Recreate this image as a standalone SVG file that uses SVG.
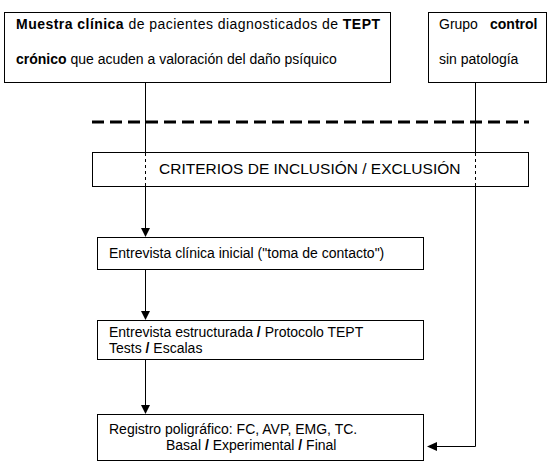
<svg xmlns="http://www.w3.org/2000/svg" width="550" height="468" viewBox="0 0 550 468">
<style>
.box{fill:#fff;stroke:#000;stroke-width:1}
.t{font-family:"Liberation Sans",Arial,sans-serif;font-size:14px;fill:#000}
.b{font-weight:bold}
.ln{stroke:#000;stroke-width:1;fill:none}
.dl{stroke:#000;stroke-width:1;fill:none;stroke-dasharray:3 3}
.ah{fill:#000}
</style>
<rect width="550" height="468" fill="#fff"/>
<g id="muestra">
<rect class="box" x="4.5" y="12.5" width="386" height="70"/>
<text class="t" x="16" y="29" textLength="364" lengthAdjust="spacing"><tspan class="b">Muestra clínica</tspan> de pacientes diagnosticados de <tspan class="b">TEPT</tspan></text>
<text class="t" x="16" y="64"><tspan class="b">crónico</tspan> que acuden a valoración del daño psíquico</text>
</g>
<g id="control">
<rect class="box" x="428.5" y="12.5" width="118" height="70"/>
<text class="t" x="439" y="29">Grupo</text>
<text class="t b" x="490" y="29">control</text>
<text class="t" x="439" y="64">sin patología</text>
</g>
<g id="separador">
<line x1="92" y1="122" x2="529" y2="122" stroke="#000" stroke-width="3" stroke-dasharray="12 6"/>
</g>
<g id="criterios">
<rect class="box" x="92.5" y="152.5" width="436" height="34"/>
<text class="t" x="159" y="174" style="font-size:15.5px">CRITERIOS DE INCLUSIÓN / EXCLUSIÓN</text>
</g>
<g id="entrevista1">
<rect class="box" x="97.5" y="237.5" width="326" height="32"/>
<text class="t" x="109" y="258">Entrevista clínica inicial ("toma de contacto")</text>
</g>
<g id="entrevista2">
<rect class="box" x="97.5" y="320.5" width="326" height="39"/>
<text class="t" x="109" y="337">Entrevista estructurada <tspan class="b">/</tspan> Protocolo TEPT</text>
<text class="t" x="109" y="353">Tests <tspan class="b">/</tspan> Escalas</text>
</g>
<g id="registro">
<rect class="box" x="97.5" y="414.5" width="326" height="46"/>
<text class="t" x="109" y="434">Registro poligráfico: FC, AVP, EMG, TC.</text>
<text class="t" x="166" y="450">Basal <tspan class="b">/</tspan> Experimental <tspan class="b">/</tspan> Final</text>
</g>
<g id="conectores">
<line class="ln" x1="145.5" y1="82" x2="145.5" y2="152"/>
<line class="dl" x1="145.5" y1="153" x2="145.5" y2="186"/>
<line class="ln" x1="145.5" y1="187" x2="145.5" y2="229"/>
<polygon class="ah" points="141,228 150,228 145.5,237"/>
<line class="ln" x1="145.5" y1="270" x2="145.5" y2="312"/>
<polygon class="ah" points="141,311 150,311 145.5,320"/>
<line class="ln" x1="145.5" y1="360" x2="145.5" y2="406"/>
<polygon class="ah" points="141,405 150,405 145.5,414"/>
<line class="ln" x1="475.5" y1="82" x2="475.5" y2="152"/>
<line class="dl" x1="475.5" y1="153" x2="475.5" y2="186"/>
<polyline class="ln" points="475.5,187 475.5,446.5 436,446.5"/>
<polygon class="ah" points="427,446.5 437,442 437,451"/>
</g>
</svg>
